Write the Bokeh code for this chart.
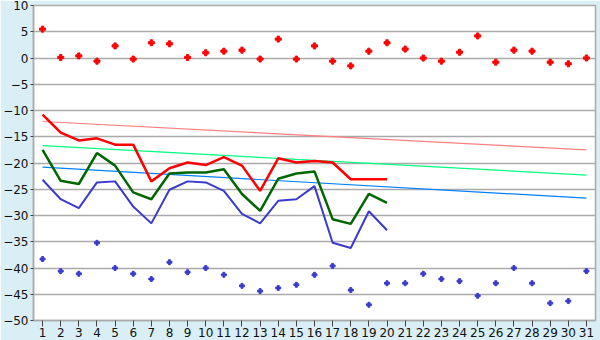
from bokeh.plotting import figure
from bokeh.models import Range1d, FixedTicker
from bokeh.embed import file_html
from bokeh.resources import INLINE

days = list(range(1, 32))
max_points = [5.5, 0.1, 0.4, -0.6, 2.3, -0.2, 2.9, 2.7, 0.1, 1.0,
              1.3, 1.5, -0.2, 3.6, -0.2, 2.3, -0.6, -1.5, 1.3, 2.9,
              1.7, 0.0, -0.6, 1.1, 4.2, -0.8, 1.5, 1.3, -0.8, -1.1, 0.0]
min_points = [-38.3, -40.6, -41.1, -35.2, -40.0, -41.1, -42.1, -38.9, -40.8, -40.0,
              -41.3, -43.4, -44.4, -43.8, -43.2, -41.3, -39.6, -44.2, -47.0, -42.9,
              -42.9, -41.1, -42.1, -42.5, -45.3, -42.9, -40.0, -42.9, -46.7, -46.3, -40.6]

line_days = list(range(1, 21))
red_line = [-10.8, -14.2, -15.7, -15.3, -16.5, -16.5, -23.5, -21.0, -19.9, -20.4,
            -18.9, -20.5, -25.3, -19.1, -19.9, -19.6, -19.9, -23.1, -23.1, -23.1]
green_line = [-17.5, -23.4, -24.0, -18.1, -20.5, -25.6, -26.9, -22.0, -21.8, -21.8,
              -21.2, -25.9, -29.1, -23.0, -22.0, -21.6, -30.7, -31.6, -25.9, -27.6]
blue_line = [-23.2, -26.9, -28.6, -23.7, -23.5, -28.3, -31.5, -25.1, -23.5, -23.7,
             -25.3, -29.7, -31.5, -27.2, -26.9, -24.4, -35.2, -36.2, -29.2, -32.8]

trend_days = [1, 31]
trend_red = [-12.1, -17.5]
trend_green = [-16.7, -22.3]
trend_blue = [-20.8, -26.7]

y_ticks = list(range(-50, 15, 5))

p = figure(width=600, height=340, output_backend="svg", toolbar_location=None,
           x_range=Range1d(0.5, 31.5), y_range=Range1d(-50, 10),
           min_border_left=26, min_border_right=5, min_border_top=5, min_border_bottom=20)
p.border_fill_color = "#d9eef5"
p.background_fill_color = "white"
p.outline_line_color = "#aaaaaa"
p.outline_line_width = 1.5

p.xgrid.grid_line_color = None
p.ygrid.grid_line_color = "#aaaaaa"
p.ygrid.grid_line_width = 1.5
p.yaxis.ticker = FixedTicker(ticks=y_ticks)
p.xaxis.ticker = FixedTicker(ticks=days)

for ax in (p.xaxis, p.yaxis):
    ax.axis_line_color = "#aaaaaa"
    ax.axis_line_width = 1.5
    ax.major_tick_line_color = "#444444"
    ax.minor_tick_line_color = None
    ax.major_tick_in = 0
    ax.major_label_text_font = "DejaVu Sans"
    ax.major_label_text_font_size = "12px"
    ax.major_label_text_color = "#111111"
p.yaxis.major_tick_out = 3
p.yaxis.major_label_standoff = 2
p.xaxis.major_tick_out = 6
p.xaxis.major_label_standoff = 1

p.line(trend_days, trend_red, color="#ff8080", line_width=1.2)
p.line(trend_days, trend_green, color="#00ff80", line_width=1.2)
p.line(trend_days, trend_blue, color="#0080ff", line_width=1.2)

p.line(line_days, blue_line, color="#3a3acc", line_width=2)
p.line(line_days, green_line, color="#006600", line_width=2.5)
p.line(line_days, red_line, color="#ff0000", line_width=2.5)

p.scatter(days, max_points, marker="plus", size=6, color="#ff0000")
p.scatter(days, min_points, marker="plus", size=5, color="#3a3acc")

open("out.html", "w").write(file_html(p, INLINE))
